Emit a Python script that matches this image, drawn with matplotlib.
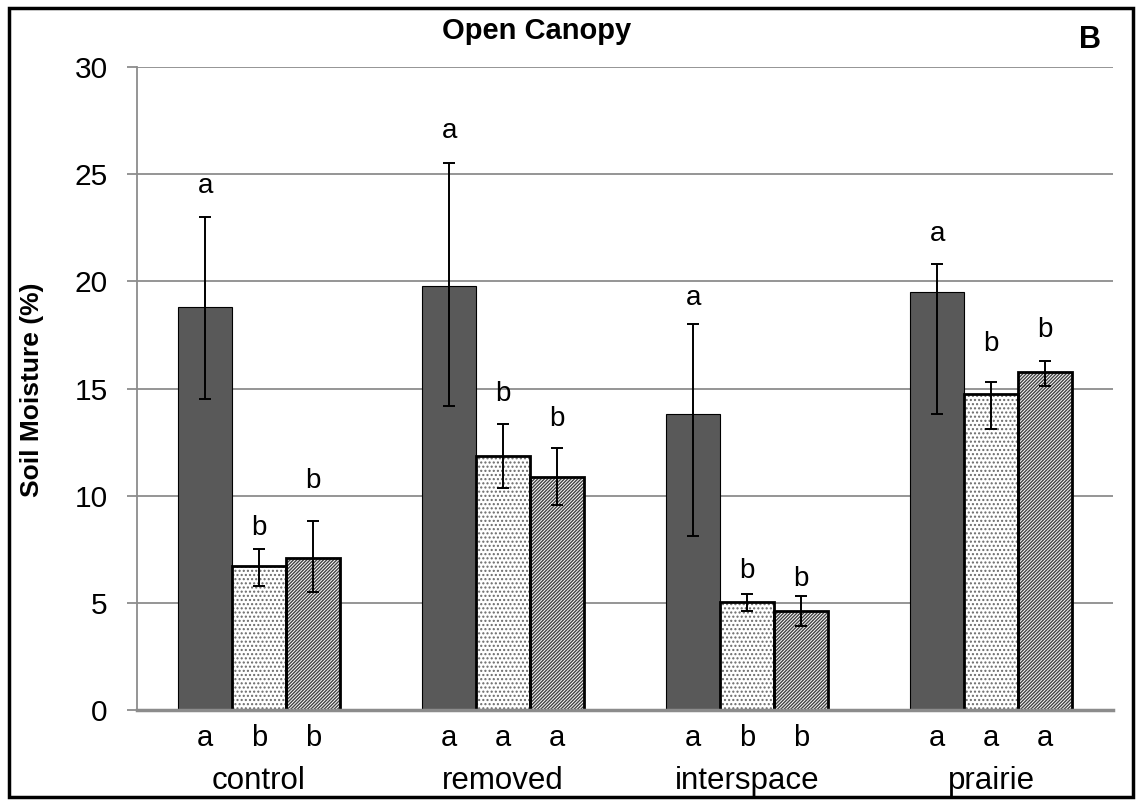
import matplotlib
matplotlib.use("Agg")
import matplotlib.pyplot as plt
import numpy as np
from matplotlib.patches import Rectangle
from matplotlib.transforms import blended_transform_factory

plt.rcParams['font.family'] = ['Liberation Sans', 'DejaVu Sans']

categories = ["control", "removed", "interspace", "prairie"]

# series values (soil moisture %)
dark_vals = [18.8, 19.8, 13.8, 19.5]
dark_lo = [14.5, 14.2, 8.1, 13.8]
dark_hi = [23.0, 25.5, 18.0, 20.8]

dot_vals = [6.7, 11.85, 5.02, 14.75]
dot_lo = [5.8, 10.36, 4.62, 13.1]
dot_hi = [7.5, 13.35, 5.4, 15.3]

hat_vals = [7.1, 10.89, 4.63, 15.75]
hat_lo = [5.5, 9.56, 3.92, 15.1]
hat_hi = [8.8, 12.24, 5.32, 16.3]

# significance letters above bars and their baseline heights
top_dark = ["a", "a", "a", "a"]
top_dark_y = [24.1, 26.7, 18.9, 21.9]
top_dot = ["b", "b", "b", "b"]
top_dot_y = [8.17, 14.43, 6.17, 16.75]
top_hat = ["b", "b", "b", "b"]
top_hat_y = [10.36, 13.25, 5.8, 17.4]

# letters below bars
bot_dark = ["a", "a", "a", "a"]
bot_dot = ["b", "a", "b", "a"]
bot_hat = ["b", "a", "b", "a"]

yticks = [0, 5, 10, 15, 20, 25, 30]

fig = plt.figure(figsize=(11.37, 8.0), dpi=100)
ax = fig.add_axes([0.1205, 0.1125, 0.979 - 0.1205, 0.91625 - 0.1125])

x = np.arange(len(categories))
w = 0.221

grid_c = "#8c8c8c"
ax.set_ylim(0, 30)
ax.set_xlim(-0.5, len(categories) - 0.5)
ax.set_yticks(yticks)
ax.yaxis.grid(True, color=grid_c, linewidth=1.3)
ax.set_axisbelow(True)
for s in ["top", "right"]:
    ax.spines[s].set_visible(False)
ax.spines["left"].set_color(grid_c)
ax.spines["left"].set_linewidth(1.3)
ax.spines["bottom"].set_color(grid_c)
ax.spines["bottom"].set_linewidth(2.5)
ax.spines["bottom"].set_zorder(5)
ax.tick_params(axis="y", length=7, width=1.3, color=grid_c, pad=14, labelsize=21.5)
ax.set_xticks([])

ekw = dict(fmt="none", ecolor="black", elinewidth=1.4, capsize=4.5, capthick=1.4, zorder=6)

# dark bars
ax.bar(x - w, dark_vals, w, color="#595959", edgecolor="black", linewidth=0.8, zorder=3)
ax.errorbar(x - w, dark_vals,
            yerr=[np.array(dark_vals) - np.array(dark_lo), np.array(dark_hi) - np.array(dark_vals)], **ekw)

# dotted bars
plt.rcParams['hatch.linewidth'] = 1.0
ax.bar(x, dot_vals, w, color="white", edgecolor="#6a6a6a", hatch="....", linewidth=0, zorder=3)
ax.bar(x, dot_vals, w, fill=False, edgecolor="black", linewidth=2.0, zorder=4, clip_on=False)
ax.errorbar(x, dot_vals,
            yerr=[np.array(dot_vals) - np.array(dot_lo), np.array(dot_hi) - np.array(dot_vals)], **ekw)

# hatched bars
ax.bar(x + w, hat_vals, w, color="white", edgecolor="#444444", hatch="/" * 10, linewidth=0, zorder=3)
ax.bar(x + w, hat_vals, w, fill=False, edgecolor="black", linewidth=2.0, zorder=4, clip_on=False)
ax.errorbar(x + w, hat_vals,
            yerr=[np.array(hat_vals) - np.array(hat_lo), np.array(hat_hi) - np.array(hat_vals)], **ekw)

fs = 20
for i in range(len(categories)):
    ax.text(x[i] - w, top_dark_y[i], top_dark[i], ha="center", va="baseline", fontsize=fs)
    ax.text(x[i], top_dot_y[i], top_dot[i], ha="center", va="baseline", fontsize=fs)
    ax.text(x[i] + w, top_hat_y[i], top_hat[i], ha="center", va="baseline", fontsize=fs)

trans = blended_transform_factory(ax.transData, ax.transAxes)
for i in range(len(categories)):
    ax.text(x[i] - w, -0.056, bot_dark[i], ha="center", va="baseline", fontsize=21, transform=trans)
    ax.text(x[i], -0.056, bot_dot[i], ha="center", va="baseline", fontsize=21, transform=trans)
    ax.text(x[i] + w, -0.056, bot_hat[i], ha="center", va="baseline", fontsize=21, transform=trans)
    ax.text(x[i], -0.1235, categories[i], ha="center", va="baseline", fontsize=22.5, transform=trans)

fig.text(32 / 1137, 1 - 390 / 800, "Soil Moisture (%)", rotation=90, ha="center", va="center",
         fontsize=19, fontweight="bold")
fig.text(537 / 1137, 1 - 39 / 800, "Open Canopy", ha="center", va="baseline", fontsize=21, fontweight="bold")
fig.text(1090 / 1137, 1 - 48 / 800, "B", ha="center", va="baseline", fontsize=22, fontweight="bold")

fig.patches.append(Rectangle((9 / 1137, 3 / 800), (1133 - 9) / 1137, (792 - 3) / 800,
                             transform=fig.transFigure, fill=False, edgecolor="black", linewidth=2.5))

fig.savefig("out.png", dpi=100)
